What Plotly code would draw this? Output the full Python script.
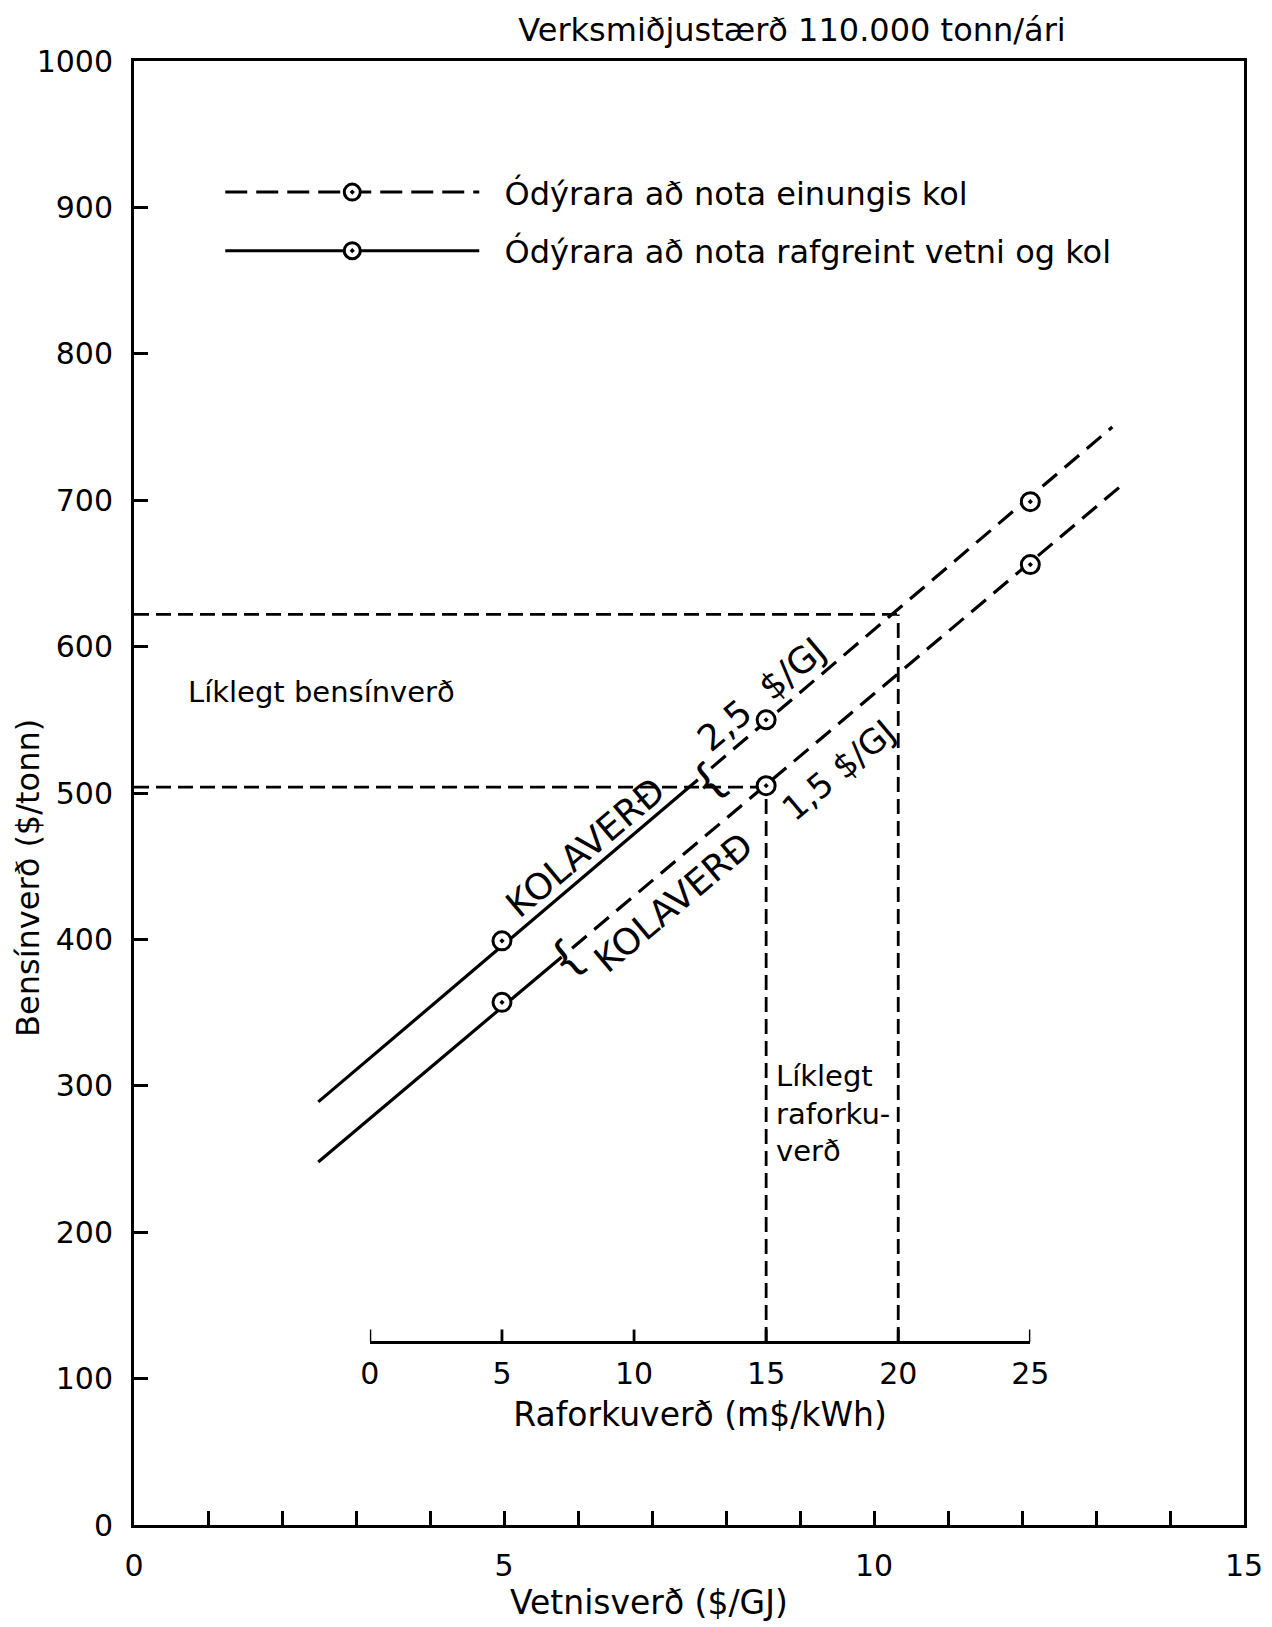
import plotly.graph_objects as go

# ---------------- data ----------------
hyd_tick_labels = [0, 5, 10, 15]                 # Vetnisverð ($/GJ)
gas_tick_labels = [0, 100, 200, 300, 400, 500, 600, 700, 800, 900, 1000]   # Bensínverð ($/tonn)
elec_tick_labels = [0, 5, 10, 15, 20, 25]        # Raforkuverð (m$/kWh)

elec_points = [5, 15, 25]
gas_coal25_points = [399, 550, 699]   # Kolaverð 2,5 $/GJ
gas_coal15_points = [357, 505, 656]   # Kolaverð 1,5 $/GJ

# line segments: hydrogen price ($/GJ) vs gasoline price ($/tonn)
coal25_solid_x = [2.49, 7.62]
coal25_solid_y = [289, 509]
coal25_dash_x = [7.80, 13.22]
coal25_dash_y = [517, 750]
coal15_solid_x = [2.49, 5.78]
coal15_solid_y = [248, 388]
coal15_dash_x = [5.92, 13.32]
coal15_dash_y = [394, 709]

# likely prices (reference lines)
likely_gas = [622, 504]          # $/tonn
likely_elec = [20, 15]           # m$/kWh
likely_hyd = [10.32, 8.57]       # $/GJ equivalent
inner_axis_level = 125           # gasoline value where electricity axis sits
inner_tick_len = 8.5             # tick length of electricity axis, in $/tonn units

FONT = "DejaVu Sans"
BLACK = "black"
MAIN_DASH = "19px,10px"
REF_DASH = "15px,7px"

fig = go.Figure()

# main lines
for xs, ys, dash in [
    (coal25_solid_x, coal25_solid_y, "solid"),
    (coal25_dash_x, coal25_dash_y, MAIN_DASH),
    (coal15_solid_x, coal15_solid_y, "solid"),
    (coal15_dash_x, coal15_dash_y, MAIN_DASH),
]:
    fig.add_trace(go.Scatter(x=xs, y=ys, mode="lines", showlegend=False, hoverinfo="skip",
                             line=dict(color=BLACK, width=3.2, dash=dash)))

# horizontal reference lines (likely gasoline price)
for g, h in zip(likely_gas, likely_hyd):
    fig.add_trace(go.Scatter(x=[0, h], y=[g, g], mode="lines", showlegend=False, hoverinfo="skip",
                             line=dict(color=BLACK, width=2.8, dash=REF_DASH)))

# vertical reference lines (likely electricity price) on electricity axis
for e, g in zip(likely_elec, likely_gas):
    fig.add_trace(go.Scatter(x=[e, e], y=[inner_axis_level, g], xaxis="x2", yaxis="y",
                             mode="lines", showlegend=False, hoverinfo="skip",
                             line=dict(color=BLACK, width=2.8, dash=REF_DASH)))

# upward tick marks of the electricity axis
tick_x, tick_y = [], []
for e in elec_tick_labels:
    tick_x += [e, e, None]
    tick_y += [inner_axis_level, inner_axis_level + inner_tick_len, None]
fig.add_trace(go.Scatter(x=tick_x, y=tick_y, xaxis="x2", yaxis="y", mode="lines",
                         showlegend=False, hoverinfo="skip", cliponaxis=False,
                         line=dict(color=BLACK, width=2.8)))

# circle markers on electricity axis
marker_style = dict(symbol="circle-dot", size=18, color="white", line=dict(color=BLACK, width=3))
for ys in [gas_coal25_points, gas_coal15_points]:
    fig.add_trace(go.Scatter(x=elec_points, y=ys, xaxis="x2", yaxis="y", mode="markers",
                             showlegend=False, cliponaxis=False, marker=marker_style))

# legend entries
nb = "\u00a0\u00a0"
fig.add_trace(go.Scatter(x=[None], y=[None], mode="lines+markers", legendgroup="a",
                         name=nb + "Ódýrara að nota einungis kol",
                         line=dict(color=BLACK, width=3, dash="22px,9px"), marker=marker_style))
fig.add_trace(go.Scatter(x=[None], y=[None], mode="lines+markers", legendgroup="b",
                         name=nb + "Ódýrara að nota rafgreint vetni og kol",
                         line=dict(color=BLACK, width=3), marker=marker_style))

ann = []
def text(x, y, t, size=30, angle=0, xanchor="center", yanchor="middle", xref="x", yref="y", align="center"):
    ann.append(dict(x=x, y=y, text=t, xref=xref, yref=yref, showarrow=False, textangle=angle,
                    xanchor=xanchor, yanchor=yanchor, align=align,
                    font=dict(family=FONT, size=size, color=BLACK)))

text(6.10, 462.5, "KOLAVERÐ", size=36, angle=-40)
text(8.48, 567, "2,5\u00a0\u00a0$/GJ", size=36, angle=-40)
text(7.29, 425, "KOLAVERÐ", size=36, angle=-40)
text(9.52, 516, "1,5\u00a0$/GJ", size=34, angle=-40)
text(7.76, 508, "{", size=46, angle=-40)
text(5.84, 387, "{", size=46, angle=-40)
text(0.70, 569, "Líklegt bensínverð", size=29, xanchor="left")
text(8.65, 281, "Líklegt<br>raforku-<br>verð", size=29, xanchor="left", align="left")
text(-0.0951, 0.4423, "Bensínverð ($/tonn)", size=32, angle=-90, xref="paper", yref="paper")
text(0.4642, -0.0532, "Vetnisverð ($/GJ)", size=33, xref="paper", yref="paper")

fig.update_layout(
    width=1272, height=1627,
    margin=dict(l=126, r=36, t=53, b=110, pad=0),
    paper_bgcolor="white", plot_bgcolor="rgba(0,0,0,0)",
    font=dict(family=FONT, size=30, color=BLACK),
    title=dict(text="Verksmiðjustærð 110.000 tonn/ári", x=784 / 1272, xref="container",
               xanchor="center", y=1 - 22 / 1627, yref="container", yanchor="middle",
               font=dict(family=FONT, size=32, color=BLACK)),
    showlegend=True,
    legend=dict(x=0.0777, y=0.9291, xanchor="left", yanchor="top", itemwidth=254,
                font=dict(family=FONT, size=32, color=BLACK), bgcolor="rgba(0,0,0,0)",
                tracegroupgap=14, traceorder="grouped"),
    xaxis=dict(range=[0, 15], tickvals=hyd_tick_labels, ticks="inside", ticklen=14, tickwidth=2.5,
               tickcolor=BLACK, showline=True, linewidth=3, linecolor=BLACK, mirror=True,
               showgrid=False, zeroline=False, ticklabelstandoff=12,
               minor=dict(dtick=1, ticks="inside", ticklen=14, tickwidth=2.5, tickcolor=BLACK, showgrid=False),
               tickfont=dict(family=FONT, size=30, color=BLACK)),
    yaxis=dict(range=[0, 1000], tickvals=gas_tick_labels, ticks="inside", ticklen=14, tickwidth=2.5,
               tickcolor=BLACK, showline=True, linewidth=3, linecolor=BLACK, mirror=True,
               showgrid=False, zeroline=False, ticklabelstandoff=12,
               tickfont=dict(family=FONT, size=30, color=BLACK)),
    xaxis2=dict(range=[0, 25], domain=[0.2125, 0.8075], anchor="free", position=inner_axis_level / 1000,
                tickvals=elec_tick_labels, ticks="", showline=True, linewidth=3, linecolor=BLACK,
                showgrid=False, zeroline=False, ticklabelstandoff=4,
                title=dict(text="Raforkuverð (m$/kWh)", standoff=12, font=dict(family=FONT, size=33, color=BLACK)),
                tickfont=dict(family=FONT, size=30, color=BLACK)),
    annotations=ann,
)

fig.write_html("out.html")
